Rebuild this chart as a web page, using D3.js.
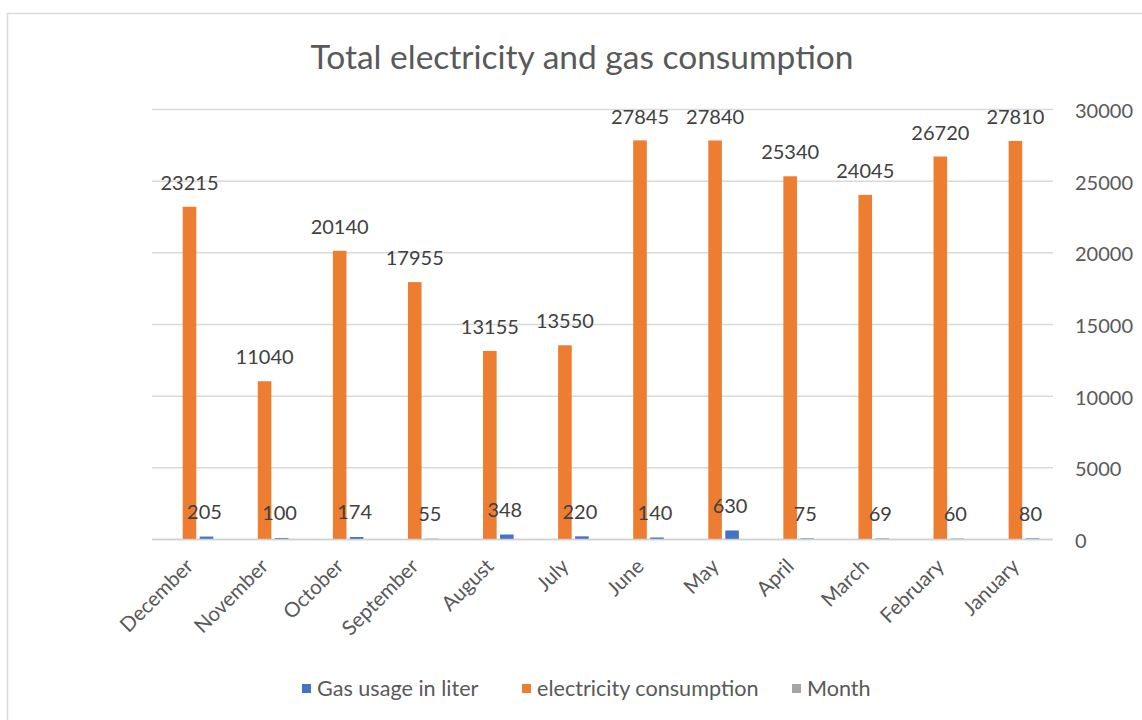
<!DOCTYPE html>
<html>
<head>
<meta charset="utf-8">
<script src="https://cdn.jsdelivr.net/npm/d3@7"></script>
<style>
  html, body { margin: 0; padding: 0; background: #ffffff; }
  svg { display: block; font-family: Lato, "Open Sans", sans-serif; }
</style>
</head>
<body>
<svg id="chart" width="1142" height="720"></svg>
<script>
// ---- data ----
const months = ["December", "November", "October", "September", "August", "July",
                "June", "May", "April", "March", "February", "January"];
const gasUsage = [205, 100, 174, 55, 348, 220, 140, 630, 75, 69, 60, 80];
const electricity = [23215, 11040, 20140, 17955, 13155, 13550, 27845, 27840, 25340, 24045, 26720, 27810];
const monthSeries = [];  // "Month" series has no plotted values
const yTicks = [0, 5000, 10000, 15000, 20000, 25000, 30000];
const seriesNames = ["Gas usage in liter", "electricity consumption", "Month"];
const seriesColors = ["#4472C4", "#ED7D31", "#A5A5A5"];
const title = "Total electricity and gas consumption";

// ---- layout ----
const W = 1142, H = 720;
const plot = { left: 152, right: 1053, top: 109.5, bottom: 539.5 };
const textColor = "#595959";
const gridColor = "#d9d9d9";

const svg = d3.select("#chart");

// chart frame
svg.append("rect")
  .attr("x", 7.5).attr("y", 13.5)
  .attr("width", 1200).attr("height", 800)
  .attr("fill", "#ffffff")
  .attr("stroke", "#d9d9d9").attr("stroke-width", 1.5);

const x = d3.scaleBand().domain(months).range([plot.left, plot.right]).paddingInner(0).paddingOuter(0);
// slot order inside a category: Month, electricity, Gas
const inner = d3.scaleBand().domain(["Month", "electricity", "gas"])
  .range([13.7, 61.3]).paddingInner(0.2).paddingOuter(0);
const y = d3.scaleLinear().domain([0, 30000]).range([plot.bottom, plot.top]);

// gridlines
svg.append("g").selectAll("line").data(yTicks).join("line")
  .attr("x1", plot.left).attr("x2", plot.right)
  .attr("y1", d => y(d)).attr("y2", d => y(d))
  .attr("stroke", gridColor).attr("stroke-width", 1.5);

// right axis (labels only)
const yAxis = d3.axisRight(y).tickValues(yTicks).tickSize(0).tickPadding(0).tickFormat(d3.format("d"));
const gy = svg.append("g").attr("transform", `translate(1075,0)`).call(yAxis);
gy.select(".domain").remove();
gy.selectAll("text").attr("fill", textColor).attr("font-size", 20)
  .attr("font-family", "Lato, 'Open Sans', sans-serif").attr("dy", "0.4em");

// bars
const elecData = months.map((m, i) => ({ m, v: electricity[i] }));
const gasData = months.map((m, i) => ({ m, v: gasUsage[i] }));

svg.append("g").selectAll("rect").data(elecData).join("rect")
  .attr("x", d => x(d.m) + inner("electricity"))
  .attr("width", inner.bandwidth())
  .attr("y", d => y(d.v))
  .attr("height", d => y(0) - y(d.v))
  .attr("fill", seriesColors[1]);

svg.append("g").selectAll("rect").data(gasData).join("rect")
  .attr("x", d => x(d.m) + inner("gas"))
  .attr("width", inner.bandwidth())
  .attr("y", d => y(d.v))
  .attr("height", d => y(0) - y(d.v))
  .attr("fill", seriesColors[0]);

// baseline
svg.append("line")
  .attr("x1", plot.left).attr("x2", plot.right)
  .attr("y1", y(0)).attr("y2", y(0))
  .attr("stroke", "#d0d0d0").attr("stroke-width", 1.5);

// data labels
svg.append("g").selectAll("text").data(elecData).join("text")
  .attr("x", d => x(d.m) + inner("electricity") + inner.bandwidth() / 2)
  .attr("y", d => y(d.v) - 24)
  .attr("dy", "0.36em")
  .attr("text-anchor", "middle")
  .attr("font-size", 20).attr("fill", "#404040")
  .text(d => d.v);

svg.append("g").selectAll("text").data(gasData).join("text")
  .attr("x", d => x(d.m) + inner("gas") + inner.bandwidth() / 2 - 2)
  .attr("y", d => y(d.v) - 25)
  .attr("dy", "0.36em")
  .attr("text-anchor", "middle")
  .attr("font-size", 20).attr("fill", "#404040")
  .text(d => d.v);

// category labels
const xAxis = d3.axisBottom(x).tickSize(0).tickPadding(0);
const gx = svg.append("g").attr("transform", `translate(0,${plot.bottom})`).call(xAxis);
gx.select(".domain").remove();
gx.selectAll("text")
  .attr("fill", textColor).attr("font-size", 20.5)
  .attr("font-family", "Lato, 'Open Sans', sans-serif")
  .attr("text-anchor", "end")
  .attr("dy", 0).attr("y", 0)
  .attr("transform", "translate(5,28) rotate(-45)");

// title
svg.append("text")
  .attr("x", 582).attr("y", 69)
  .attr("text-anchor", "middle")
  .attr("font-size", 33.5).attr("fill", textColor)
  .text(title);

// legend
const legendX = [302, 522, 792];
const lg = svg.append("g").selectAll("g").data(seriesNames).join("g")
  .attr("transform", (d, i) => `translate(${legendX[i]},684)`);
lg.append("rect").attr("width", 9).attr("height", 9).attr("y", 0)
  .attr("fill", (d, i) => seriesColors[i]);
lg.append("text").attr("x", 15).attr("y", 4.5).attr("dy", "0.36em")
  .attr("font-size", 21.6).attr("fill", textColor)
  .text(d => d);
</script>
</body>
</html>
